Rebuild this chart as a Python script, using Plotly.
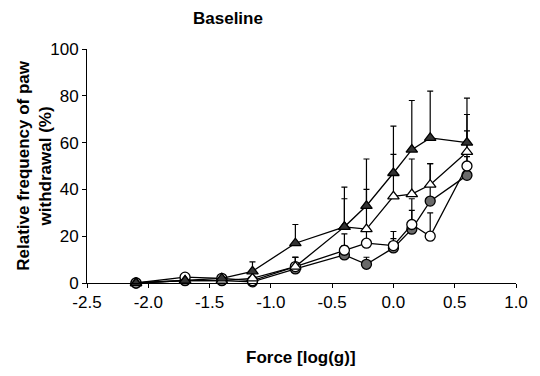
import plotly.graph_objects as go

force_log = [-2.1, -1.7, -1.4, -1.15, -0.8, -0.4, -0.22, 0.0, 0.15, 0.3, 0.6]

tri_filled = [0, 1, 2, 5, 17, 24, 33, 47, 57, 62, 60]
tri_filled_err = [0, 0, 0, 4, 8, 17, 20, 20, 21, 20, 19]

tri_open = [0, 1, 1, 2, 7, 24, 23, 37, 38, 42, 56]
tri_open_err = [0, 0, 0, 0, 4, 12, 17, 18, 15, 9, 16]

circ_open = [0, 2.5, 2, 1, 7, 14, 17, 16, 25, 20, 50]
circ_open_err = [0, 0, 0, 0, 4, 7, 5, 6, 11, 10, 15]

circ_filled = [0, 1, 1, 0.5, 6, 12, 8, 15, 23, 35, 46]
circ_filled_err = [0, 0, 0, 0, 5, 4, 3, 4, 8, 16, 8]

y_ticks = [0, 20, 40, 60, 80, 100]
x_ticks = [-2.5, -2.0, -1.5, -1.0, -0.5, 0.0, 0.5, 1.0]

FONT = "Arial, Liberation Sans, sans-serif"

series = [
    (circ_filled, circ_filled_err, "circle", "#6a6a6a"),
    (circ_open, circ_open_err, "circle", "white"),
    (tri_open, tri_open_err, "triangle-up", "white"),
    (tri_filled, tri_filled_err, "triangle-up", "#333333"),
]

fig = go.Figure()
for ys, err, sym, fill in series:
    fig.add_trace(go.Scatter(
        x=force_log, y=ys, mode="lines+markers",
        line=dict(color="black", width=1.3),
        marker=dict(symbol=sym, size=10, color=fill,
                    line=dict(color="black", width=1.3)),
        error_y=dict(type="data", symmetric=False, array=err,
                     arrayminus=[0] * len(err), color="black",
                     thickness=1.2, width=3),
        cliponaxis=False, showlegend=False,
    ))

L, R, T, B = 87, 18, 49, 93
plot_w = 540 - L - R
plot_h = 376 - T - B

def px(xp, yp):
    return (xp - L) / plot_w, (376 - B - yp) / plot_h

tx, ty = px(230, 18)
fx, fy = px(304, 357)
yx, yy = px(33, 165)

fig.update_layout(
    width=540, height=376,
    margin=dict(l=L, r=R, t=T, b=B),
    paper_bgcolor="white", plot_bgcolor="white",
    font=dict(family=FONT, size=17, color="black"),
    xaxis=dict(range=[-2.5, 1.0], tickvals=x_ticks,
               ticktext=[f"{v:.1f}" for v in x_ticks],
               showline=True, linecolor="black", linewidth=1,
               ticks="outside", ticklen=4, tickcolor="black",
               showgrid=False, zeroline=False),
    yaxis=dict(range=[0, 100], tickvals=y_ticks,
               showline=True, linecolor="black", linewidth=1,
               ticks="outside", ticklen=4, tickcolor="black",
               showgrid=False, zeroline=False),
    annotations=[
        dict(text="<b>Baseline</b>", x=tx, y=ty, xref="paper", yref="paper",
             xanchor="center", yanchor="middle",
             showarrow=False, font=dict(size=17)),
        dict(text="<b>Force [log(g)]</b>", x=fx, y=fy, xref="paper", yref="paper",
             xanchor="center", yanchor="middle",
             showarrow=False, font=dict(size=17)),
        dict(text="<b>Relative frequency of paw<br>withdrawal (%)</b>", x=yx, y=yy,
             xref="paper", yref="paper", textangle=-90, showarrow=False,
             xanchor="center", yanchor="middle",
             font=dict(size=17)),
    ],
)

fig.write_html("out.html")
